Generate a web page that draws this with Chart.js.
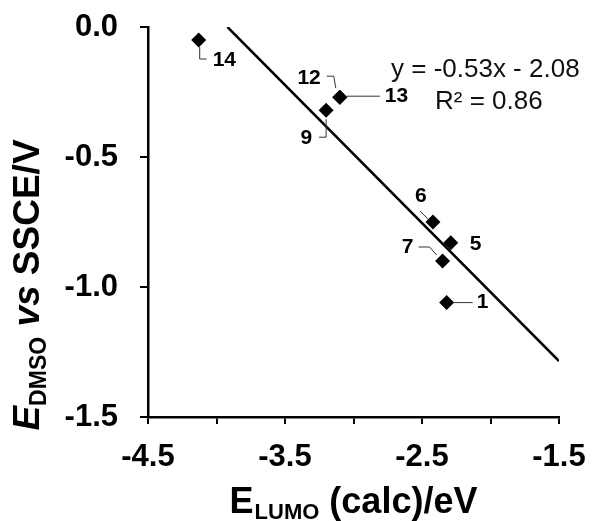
<!DOCTYPE html>
<html>
<head>
<meta charset="utf-8">
<script src="https://cdn.jsdelivr.net/npm/chart.js@4"></script>
<style>
  html, body { margin: 0; padding: 0; background: #fff; }
  #wrap { width: 592px; height: 521px; }
</style>
</head>
<body>
<div id="wrap"><canvas id="chart"></canvas></div>
<script>
// compound numbers, E_LUMO (calc) and E_DMSO values
const compounds = ['1', '5', '6', '7', '9', '12', '13', '14'];
const eLumo = [-2.32, -2.29, -2.42, -2.35, -3.20, -3.10, -3.10, -4.13];
const eDmso = [-1.06, -0.83, -0.75, -0.90, -0.32, -0.27, -0.27, -0.05];

// linear fit line, as drawn
const fitX = [-3.92, -1.5];
const fitY = [0.0, -1.285];
const fitText = ['y = -0.53x - 2.08', 'R\u00b2 = 0.86'];

const xTickLabels = ['-4.5', '-3.5', '-2.5', '-1.5'];
const yTickLabels = ['0.0', '-0.5', '-1.0', '-1.5'];

const FONT = "'Liberation Sans', Arial, sans-serif";

// where each compound number sits relative to its marker (leader line + text)
const labelPlace = {
    '14': { lead: [[1, 7], [1, 19], [8, 19]], at: [14, 20], align: 'left' },
    '12': { lead: [[-4, -9], [-6, -21], [-13, -21]], at: [-19, -19], align: 'right' },
    '13': { lead: [[7, -1], [40, -1]], at: [45, -1], align: 'left' },
    '9': { lead: [[0, 9], [0, 27], [-7, 27]], at: [-14, 28], align: 'right' },
    '6': { lead: [[-5, -3], [-13, -11]], at: [-12, -26], align: 'center' },
    '5': { lead: [], at: [19, 1], align: 'left' },
    '7': { lead: [[-6, -6], [-13, -14], [-24, -14]], at: [-29, -14], align: 'right' },
    '1': { lead: [[6, 0], [26, 0]], at: [30, 0], align: 'left' }
};

const pointLabels = {
    id: 'pointLabels',
    afterDatasetsDraw(chart) {
        const ctx = chart.ctx;
        const pts = chart.getDatasetMeta(0).data;
        ctx.save();
        compounds.forEach((name, i) => {
            const p = pts[i];
            const pl = labelPlace[name];
            if (pl.lead.length) {
                ctx.beginPath();
                pl.lead.forEach((o, k) => {
                    if (k === 0) ctx.moveTo(p.x + o[0], p.y + o[1]);
                    else ctx.lineTo(p.x + o[0], p.y + o[1]);
                });
                ctx.strokeStyle = '#333';
                ctx.lineWidth = 1;
                ctx.stroke();
            }
            ctx.font = 'bold 21px ' + FONT;
            ctx.fillStyle = '#000';
            ctx.textAlign = pl.align;
            ctx.textBaseline = 'middle';
            ctx.fillText(name, p.x + pl.at[0], p.y + pl.at[1]);
        });
        // fit equation
        ctx.font = '26px ' + FONT;
        ctx.textAlign = 'left';
        ctx.textBaseline = 'alphabetic';
        ctx.fillStyle = '#111';
        ctx.fillText(fitText[0], 391, 77);
        ctx.fillText(fitText[1], 435, 109);
        ctx.restore();
    }
};

// axis titles with subscripts
const axisTitles = {
    id: 'axisTitles',
    afterDraw(chart) {
        const ctx = chart.ctx;
        const a = chart.chartArea;
        ctx.save();
        ctx.fillStyle = '#000';
        ctx.textBaseline = 'alphabetic';
        ctx.textAlign = 'left';

        // x title: E_LUMO (calc)/eV
        const big = 'bold 36px ' + FONT, sub = 'bold 22px ' + FONT;
        ctx.font = big; const w1 = ctx.measureText('E').width;
        ctx.font = sub; const w2 = ctx.measureText('LUMO').width;
        ctx.font = big; const w3 = ctx.measureText(' (calc)/eV').width;
        let x = (a.left + a.right) / 2 - (w1 + 1 + w2 + w3) / 2;
        ctx.font = big; ctx.fillText('E', x, 513); x += w1 + 1;
        ctx.font = sub; ctx.fillText('LUMO', x, 519); x += w2;
        ctx.font = big; ctx.fillText(' (calc)/eV', x, 513);

        // y title: E_DMSO vs SSCE/V
        const parts = [
            ['E', 'italic bold 37px ' + FONT, 0],
            ['DMSO', 'bold 23px ' + FONT, 7],
            [' vs', 'italic bold 37px ' + FONT, 0],
            [' SSCE/V', 'bold 37px ' + FONT, 0]
        ];
        let total = 0;
        parts.forEach(pt => { ctx.font = pt[1]; pt.push(ctx.measureText(pt[0]).width); total += pt[3]; });
        ctx.translate(39, 285);
        ctx.rotate(-Math.PI / 2);
        let s = -total / 2;
        parts.forEach(pt => {
            ctx.font = pt[1];
            ctx.fillText(pt[0], s, pt[2]);
            s += pt[3];
        });
        ctx.restore();
    }
};

new Chart(document.getElementById('chart'), {
    type: 'scatter',
    data: {
        datasets: [{
            data: eLumo.map((v, i) => ({ x: v, y: eDmso[i] })),
            pointStyle: 'rectRot',
            pointRadius: 7.5,
            backgroundColor: '#000',
            borderColor: '#000',
            borderWidth: 0
        }, {
            data: fitX.map((v, i) => ({ x: v, y: fitY[i] })),
            showLine: true,
            borderColor: '#000',
            borderWidth: 2.5,
            pointRadius: 0
        }]
    },
    options: {
        responsive: true,
        maintainAspectRatio: false,
        animation: false,
        events: [],
        layout: { padding: { top: 27, right: 33, left: 0, bottom: 0 } },
        plugins: { legend: { display: false }, tooltip: { enabled: false } },
        scales: {
            x: {
                type: 'linear',
                min: -4.5,
                max: -1.5,
                afterFit: (s) => { s.height = 104; s.paddingLeft = 0; s.paddingRight = 0; },
                border: { color: '#000', width: 2.5 },
                grid: { drawOnChartArea: false, color: '#000', lineWidth: 2, tickLength: 7 },
                ticks: {
                    stepSize: 0.5,
                    autoSkip: false,
                    maxRotation: 0,
                    padding: 15,
                    color: '#000',
                    font: { family: FONT, size: 31, weight: 'bold' },
                    callback: (v) => {
                        const t = v.toFixed(1);
                        return xTickLabels.includes(t) ? t : '';
                    }
                }
            },
            y: {
                min: -1.5,
                max: 0,
                afterFit: (s) => { s.width = 148; s.paddingTop = 0; s.paddingBottom = 0; },
                border: { color: '#000', width: 2.5 },
                grid: { drawOnChartArea: false, color: '#000', lineWidth: 2, tickLength: 8 },
                ticks: {
                    stepSize: 0.5,
                    padding: 22,
                    color: '#000',
                    font: { family: FONT, size: 31, weight: 'bold' },
                    callback: (v) => {
                        const t = v.toFixed(1);
                        return yTickLabels.includes(t) ? t : '';
                    }
                }
            }
        }
    },
    plugins: [pointLabels, axisTitles]
});
</script>
</body>
</html>
